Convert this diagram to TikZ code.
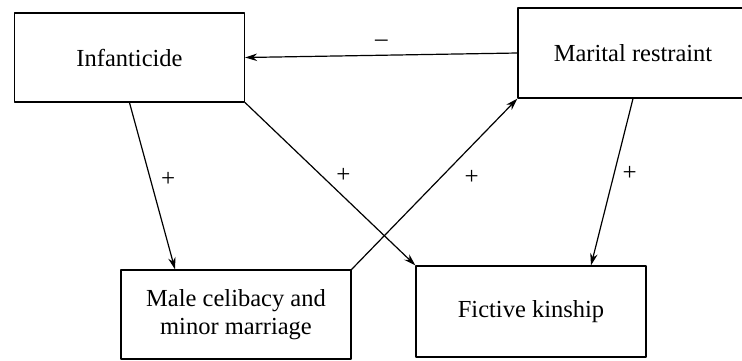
\documentclass[tikz,border=0pt]{standalone}
\usepackage{fontspec}
\setmainfont{Liberation Serif}
\usetikzlibrary{arrows.meta}
\tikzset{
  factor/.style={draw, line width=1.3pt, minimum width=230pt, minimum height=89pt,
    inner sep=0pt, align=center, font=\fontsize{24.5}{28}\selectfont},
  link/.style={line width=1.2pt, -{Stealth[length=12pt,width=7.5pt]}},
  sign/.style={font=\fontsize{25}{28}\selectfont, inner sep=1pt}
}
\begin{document}
\begin{tikzpicture}[x=1pt, y=-1pt, line join=round, line cap=round]
  \useasboundingbox (0,0) rectangle (742,360);
  % the four factors
  \node[factor] (inf) at (129.5,57.5) {Infanticide};
  \node[factor, minimum height=90pt] (mar) at (633,53) {Marital restraint};
  \node[factor] (mal) at (236,314.5) {Male celibacy and\\minor marriage};
  \node[factor, minimum height=91pt] (fic) at (531,311.5) {Fictive kinship};
  % effects
  \draw[link] (mar.west) -- node[sign, above=7pt]{–} (inf.east);
  \draw[link] (inf.south) -- node[sign, pos=.46, right=9pt]{+} ([xshift=-61pt]mal.north);
  \draw[link] (inf.south east) -- node[sign, pos=.45, right=13pt]{+} (fic.north west);
  \draw[link] (mal.north east) -- node[sign, pos=.54, right=22pt]{+} (mar.south west);
  \draw[link] (mar.south) -- node[sign, pos=.45, right=7pt]{+} ([xshift=60pt]fic.north);
\end{tikzpicture}
\end{document}
